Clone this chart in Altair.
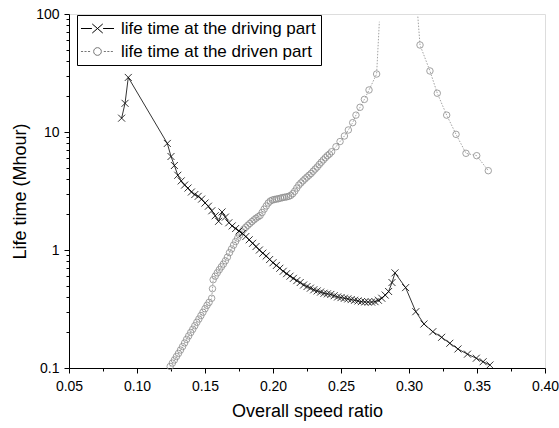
import altair as alt
import pandas as pd

# ---- data ----
drv_x = [0.0887, 0.0912, 0.0936, 0.1223, 0.125, 0.1275, 0.130, 0.1325, 0.135, 0.1375, 0.140, 0.1425,
         0.145, 0.1475, 0.150, 0.1525, 0.155, 0.1575, 0.160, 0.1625, 0.165, 0.1675, 0.170, 0.1725,
         0.175, 0.1775, 0.180, 0.1825, 0.185, 0.1875, 0.190, 0.1925, 0.195, 0.1975, 0.200, 0.2025,
         0.205, 0.2075, 0.210, 0.2125, 0.215, 0.2175, 0.220, 0.2225, 0.225, 0.2275, 0.230, 0.2325,
         0.235, 0.2375, 0.240, 0.2425, 0.245, 0.2475, 0.250, 0.2525, 0.255, 0.2575, 0.260, 0.2625,
         0.265, 0.2675, 0.270, 0.2725, 0.275, 0.2775, 0.280, 0.2825, 0.285, 0.2875, 0.2897, 0.2975,
         0.305, 0.311, 0.3175, 0.324, 0.330, 0.336, 0.343, 0.3495, 0.3545, 0.3595]
drv_y = [13.1, 17.5, 29.0, 8.0, 6.2, 5.2, 4.3, 3.85, 3.55, 3.35, 3.1, 2.95, 2.85, 2.7, 2.5, 2.35,
         2.15, 1.95, 1.75, 2.1, 1.9, 1.7, 1.6, 1.52, 1.45, 1.38, 1.3, 1.22, 1.14, 1.07, 1.0, 0.94,
         0.89, 0.83, 0.78, 0.74, 0.70, 0.66, 0.63, 0.60, 0.575, 0.55, 0.53, 0.505, 0.49, 0.475, 0.46,
         0.45, 0.44, 0.43, 0.425, 0.42, 0.41, 0.40, 0.395, 0.39, 0.385, 0.38, 0.375, 0.37, 0.365,
         0.363, 0.362, 0.362, 0.365, 0.375, 0.39, 0.415, 0.445, 0.53, 0.64, 0.48, 0.30, 0.236,
         0.203, 0.182, 0.162, 0.145, 0.131, 0.121, 0.113, 0.106]

dvn_low_x = [0.1244, 0.126, 0.1275, 0.129, 0.1305, 0.132, 0.1335, 0.135, 0.1365, 0.138, 0.1395,
             0.141, 0.1425, 0.144, 0.1455, 0.147, 0.1485, 0.150, 0.1515, 0.153, 0.1549, 0.1555,
             0.156, 0.1575, 0.159, 0.1605, 0.162, 0.1635, 0.165, 0.1665, 0.168, 0.1695, 0.171,
             0.1725, 0.174, 0.1755, 0.177, 0.1785, 0.180, 0.1815, 0.183, 0.1845, 0.186, 0.1875,
             0.189, 0.1905, 0.192, 0.1935, 0.195, 0.1965, 0.198, 0.1995, 0.201, 0.2025, 0.204,
             0.2055, 0.207, 0.2085, 0.210, 0.2115, 0.213, 0.2145, 0.216, 0.2175, 0.219, 0.2205,
             0.222, 0.2235, 0.225, 0.2265, 0.228, 0.2295, 0.231, 0.2325, 0.234, 0.2355, 0.237,
             0.2385, 0.240, 0.2415, 0.2431, 0.2463, 0.2493, 0.2525, 0.2554, 0.2586, 0.261, 0.264,
             0.2672, 0.2706, 0.2762, 0.2782]
dvn_low_y = [0.103, 0.11, 0.117, 0.125, 0.133, 0.142, 0.152, 0.163, 0.175, 0.187, 0.20, 0.213,
             0.228, 0.244, 0.26, 0.278, 0.297, 0.318, 0.34, 0.36, 0.39, 0.47, 0.56, 0.6, 0.64, 0.68,
             0.72, 0.76, 0.81, 0.87, 0.95, 1.02, 1.1, 1.18, 1.26, 1.34, 1.42, 1.5, 1.56, 1.62, 1.68,
             1.74, 1.8, 1.86, 1.91, 1.96, 2.08, 2.22, 2.36, 2.5, 2.6, 2.65, 2.68, 2.7, 2.72, 2.75,
             2.78, 2.8, 2.82, 2.85, 2.9, 3.0, 3.15, 3.35, 3.55, 3.7, 3.85, 4.0, 4.15, 4.3, 4.45,
             4.65, 4.85, 5.05, 5.3, 5.55, 5.8, 6.05, 6.3, 6.5, 6.8, 7.5, 8.3, 9.25, 10.4, 12.0,
             13.9, 16.2, 18.9, 22.7, 31, 86]
dvn_high_x = [0.3065, 0.3081, 0.3154, 0.3208, 0.3277, 0.3346, 0.3419, 0.3498, 0.3583]
dvn_high_y = [95, 54.6, 32.9, 21.3, 13.9, 9.55, 6.6, 6.3, 4.7]

names = ["life time at the driving part", "life time at the driven part"]
x_ticks = [0.05, 0.075, 0.10, 0.125, 0.15, 0.175, 0.20, 0.225, 0.25, 0.275, 0.30, 0.325, 0.35, 0.375, 0.40]
y_ticks = [0.1, 0.2, 0.3, 0.4, 0.5, 0.6, 0.7, 0.8, 0.9, 1, 2, 3, 4, 5, 6, 7, 8, 9,
           10, 20, 30, 40, 50, 60, 70, 80, 90, 100]

# ---- tables ----
drv = pd.DataFrame({"x": drv_x, "y": drv_y})
dvn = pd.concat([
    pd.DataFrame({"x": dvn_low_x, "y": dvn_low_y, "branch": "a"}),
    pd.DataFrame({"x": dvn_high_x, "y": dvn_high_y, "branch": "b"}),
], ignore_index=True)
leg = pd.DataFrame({"x": [drv_x[0], dvn_low_x[0]], "y": [drv_y[0], dvn_low_y[0]], "series": names})

FONT = "Liberation Sans"
x_major = "abs(datum.value*20 - round(datum.value*20)) < 0.01"
y_major = "abs(log(datum.value)/LN10 - round(log(datum.value)/LN10)) < 0.01"


def build(cond_ticks):
    xs = dict(values=x_ticks, labelExpr=f"{x_major} ? format(datum.value, '.2f') : ''",
              title="Overall speed ratio", grid=False, domainColor="black", tickColor="black",
              labelColor="black", titleColor="black", labelFontSize=14, titleFontSize=18,
              titleFontWeight="normal", labelPadding=6, titlePadding=9, labelFlush=False,
              labelFont=FONT, titleFont=FONT)
    ys = dict(values=y_ticks, labelExpr=f"{y_major} ? format(datum.value, '~g') : ''",
              title="Life time (Mhour)", grid=False, domainColor="black", tickColor="black",
              labelColor="black", titleColor="black", labelFontSize=14, titleFontSize=18,
              titleFontWeight="normal", labelPadding=5, titlePadding=6, labelFlush=False,
              labelFont=FONT, titleFont=FONT)
    if cond_ticks:
        xs["tickSize"] = {"condition": {"test": x_major, "value": 5}, "value": 3}
        ys["tickSize"] = {"condition": {"test": y_major, "value": 5}, "value": 3}
    else:
        xs["tickSize"] = 4
        ys["tickSize"] = 4

    X = alt.X("x:Q", scale=alt.Scale(domain=[0.05, 0.40], nice=False, zero=False), axis=alt.Axis(**xs))
    Y = alt.Y("y:Q", scale=alt.Scale(type="log", domain=[0.1, 100], nice=False), axis=alt.Axis(**ys))

    drv_line = alt.Chart(drv).mark_line(color="black", strokeWidth=0.8).encode(x=X, y=Y)
    drv_pts = alt.Chart(drv).mark_point(shape="M-1,-1L1,1M-1,1L1,-1", size=49, filled=False,
                                        stroke="black", strokeWidth=0.8, opacity=1).encode(x=X, y=Y)
    dvn_line = alt.Chart(dvn).mark_line(color="#8a8a8a", strokeWidth=0.8, strokeDash=[1.5, 1.5]).encode(
        x=X, y=Y, detail="branch:N")
    dvn_pts = alt.Chart(dvn).transform_filter("datum.y < 80").mark_point(
        shape="circle", size=42, filled=False, stroke="#8a8a8a", strokeWidth=0.8, opacity=1).encode(x=X, y=Y)

    path_drv = "M-2.36,0L-0.8,0M0.8,0L2.36,0M-0.75,-0.65L0.75,0.65M-0.75,0.65L0.75,-0.65"
    path_dvn = ("M-2.36,0L-2.06,0M-1.86,0L-1.56,0M-1.36,0L-1.06,0M0.9,0L1.2,0M1.4,0L1.7,0M1.9,0L2.2,0"
                "M-0.55,0A0.55,0.55 0 1,0 0.55,0A0.55,0.55 0 1,0 -0.55,0")
    lg = alt.Legend(title=None, orient="none", legendX=8, legendY=1, padding=5,
                    strokeColor="black", fillColor="white", symbolSize=196, symbolStrokeWidth=1,
                    symbolOffset=7, labelOffset=15, labelFontSize=17, labelFont=FONT,
                    labelColor="black", rowPadding=5, symbolOpacity=1, symbolFillColor="transparent",
                    labelLimit=400)
    legend_layer = alt.Chart(leg).mark_point(filled=False, opacity=0).encode(
        x=X, y=Y,
        shape=alt.Shape("series:N", scale=alt.Scale(domain=names, range=[path_drv, path_dvn]), legend=lg),
        stroke=alt.Stroke("series:N", scale=alt.Scale(domain=names, range=["black", "#777777"]), legend=lg),
    )

    ch = alt.layer(dvn_line, dvn_pts, drv_line, drv_pts, legend_layer).properties(
        width=476, height=354,
        padding={"left": 69, "top": 14, "right": 14, "bottom": 60},
        autosize=alt.AutoSizeParams(type="none"),
        background="white",
    ).configure_view(strokeWidth=0).configure_legend(strokeWidth=1).configure(font=FONT)
    return ch


try:
    chart = build(True)
    chart.to_dict()
except Exception:
    chart = build(False)

chart.save("out.html", embed_options={"renderer": "svg", "actions": False})
